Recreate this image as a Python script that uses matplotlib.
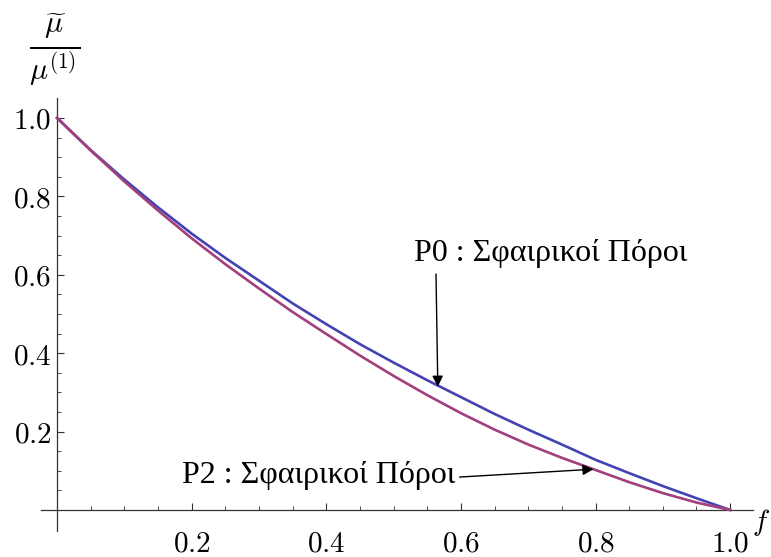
import matplotlib.pyplot as plt
import numpy as np

plt.rcParams['mathtext.fontset'] = 'cm'

# values
f_vals = [0.00, 0.05, 0.10, 0.15, 0.20, 0.25, 0.30, 0.35, 0.40, 0.45, 0.50,
          0.55, 0.60, 0.65, 0.70, 0.75, 0.80, 0.85, 0.90, 0.95, 1.00]
p0_vals = [1.000, 0.918, 0.843, 0.772, 0.705, 0.643, 0.585, 0.527, 0.474, 0.423, 0.376,
           0.331, 0.288, 0.245, 0.205, 0.167, 0.128, 0.094, 0.061, 0.030, 0.000]
p2_vals = [1.000, 0.917, 0.838, 0.764, 0.693, 0.627, 0.565, 0.505, 0.449, 0.394, 0.342,
           0.293, 0.247, 0.205, 0.167, 0.133, 0.102, 0.071, 0.043, 0.019, 0.000]

xticks = [0.2, 0.4, 0.6, 0.8, 1.0]
yticks = [0.2, 0.4, 0.6, 0.8, 1.0]

fig = plt.figure(figsize=(7.71, 5.57), dpi=100)
ax = fig.add_axes([0.0532, 0.0467, 0.9235, 0.7774])

ax.plot(f_vals, p0_vals, color='#4343b4', lw=1.9, zorder=3)
ax.plot(f_vals, p2_vals, color='#a2407c', lw=1.9, zorder=3)

ax.set_xlim(-0.0238, 1.034)
ax.set_ylim(-0.0536, 1.051)

# axes crossing at the origin
ax.spines['left'].set_position(('data', 0))
ax.spines['bottom'].set_position(('data', 0))
ax.spines['top'].set_visible(False)
ax.spines['right'].set_visible(False)
for s in ['left', 'bottom']:
    ax.spines[s].set_linewidth(0.9)
    ax.spines[s].set_color('#333333')

ax.set_xticks(xticks)
ax.set_xticklabels([f'${v:.1f}$' for v in xticks])
ax.set_yticks(yticks)
ax.set_yticklabels([f'${v:.1f}$' for v in yticks])
ax.set_xticks(np.arange(0.05, 1.0, 0.05), minor=True)
ax.set_yticks(np.arange(0.05, 1.05, 0.05), minor=True)

ax.tick_params(axis='both', which='major', direction='in', length=5, width=0.8,
               labelsize=21, color='#333333')
ax.tick_params(axis='both', which='minor', direction='in', length=3, width=0.6,
               color='#333333')
ax.tick_params(axis='x', which='major', pad=14)
ax.tick_params(axis='y', which='major', pad=4)

# axis labels
fig.text(55 / 771, 1 - 50 / 557, r'$\frac{\widetilde{\mu}}{\mu^{(1)}}$',
         fontsize=31, ha='center', va='center')
fig.text(761 / 771, 1 - 522 / 557, r'$f$', fontsize=21, ha='center', va='center')

# annotations
ax.text(0.734, 0.655, 'P0 : Σφαιρικοί Πόροι', fontsize=23,
        family='Liberation Serif', ha='center', va='center')
ax.annotate('', xy=(0.5657, 0.3145), xytext=(0.563, 0.602),
            arrowprops=dict(arrowstyle='-|>', color='black', lw=1.0,
                            mutation_scale=16, shrinkA=0, shrinkB=0))

ax.text(0.389, 0.089, 'P2 : Σφαιρικοί Πόροι', fontsize=23,
        family='Liberation Serif', ha='center', va='center')
ax.annotate('', xy=(0.797, 0.104), xytext=(0.598, 0.084),
            arrowprops=dict(arrowstyle='-|>', color='black', lw=1.0,
                            mutation_scale=16, shrinkA=0, shrinkB=0))

fig.savefig('out.png', dpi=100)
